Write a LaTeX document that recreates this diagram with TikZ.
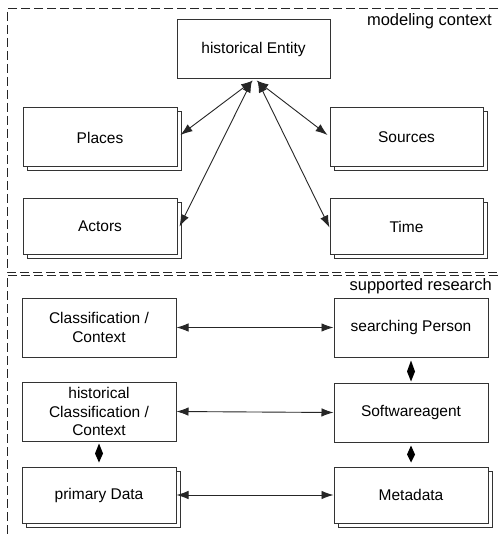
\documentclass[tikz,border=0pt]{standalone}
\usepackage{fontspec}
\setmainfont{Liberation Sans}
\usetikzlibrary{arrows.meta,shadows,calc}
\begin{document}
\begin{tikzpicture}[x=1pt,y=-1pt,
  box/.style={draw=black!80,line width=1pt,fill=white,minimum width=154pt,minimum height=58pt,inner sep=0pt,align=center,font=\fontsize{15.5}{18.5}\selectfont},
  sbox/.style={box,copy shadow={shadow xshift=4pt,shadow yshift=-4pt,draw=black!80,fill=white,line width=1pt}},
  frame/.style={draw=black!85,line width=1pt,dash pattern=on 9pt off 4pt},
  biarrow/.style={draw=black!85,line width=0.9pt,{Latex[length=12pt,width=8.5pt]}-{Latex[length=12pt,width=8.5pt]}},
  dia/.style={fill=black},
  lbl/.style={anchor=east,inner sep=0pt,font=\fontsize{16.5}{19}\selectfont}]
\useasboundingbox (0,0) rectangle (498,534);
\fill[white] (0,0) rectangle (498,534);
% frames
\draw[frame] (498,9) -- (7,9) -- (7,272) -- (498,272);
\draw[frame] (498,275) -- (7,275) -- (7,534);
\node[lbl] (mc) at (492,21) {modeling context};
\node[lbl] (sr) at (492,286) {supported research};
% upper
\node[box,minimum width=153pt,minimum height=59pt] (he) at (253.5,49.5) {historical Entity};
\node[sbox,minimum height=59pt] (places) at (100,137.5) {Places};
\node[sbox,minimum width=153pt,minimum height=59pt] (sources) at (406.5,137.5) {Sources};
\node[sbox,minimum height=55pt] (actors) at (100,226.5) {Actors};
\node[sbox,minimum width=153pt,minimum height=55pt] (time) at (406.5,226.5) {Time};
\draw[biarrow] ($(he.south)+(-0.5,1)$) -- ($(places.east)+(3,-2.5)$);
\draw[biarrow] ($(he.south)+(-1.5,1)$) -- ($(actors.east)+(2,0)$);
\draw[biarrow] ($(he.south)+(3,1)$) -- ($(sources.west)+(-2,-2.5)$);
\draw[biarrow] ($(he.south)+(4,1)$) -- ($(time.west)+(0,1)$);
% lower
\node[box,minimum height=59pt] (class) at (99,327.5) {Classification /\\Context};
\node[box,minimum height=59pt] (sp) at (411,327.5) {searching Person};
\node[box,minimum height=59pt] (hist) at (99,411.5) {historical\\Classification /\\Context};
\node[box,minimum height=59pt] (sw) at (411,412.5) {Softwareagent};
\node[sbox,minimum height=56pt] (pd) at (99,495) {primary Data};
\node[sbox,minimum height=56pt] (md) at (411,495) {Metadata};
\draw[biarrow] (class.east) -- (sp.west);
\draw[biarrow] (hist.east) -- (sw.west);
\draw[biarrow] (pd.east) -- (md.west);
% diamond connectors
\fill[dia] ($(sp.south)+(0,3)$) -- ($(sp.south)+(4,14)$) -- ($(sw.north)+(0,-1)$) -- ($(sp.south)+(-4,14)$) -- cycle;
\fill[dia] ($(sw.south)+(0,3)$) -- ($(sw.south)+(4,12)$) -- ($(md.north)+(0,-4)$) -- ($(sw.south)+(-4,12)$) -- cycle;
\fill[dia] ($(hist.south)+(0,2)$) -- ($(hist.south)+(4,12)$) -- ($(pd.north)+(0,-4)$) -- ($(hist.south)+(-4,12)$) -- cycle;
\end{tikzpicture}
\end{document}
